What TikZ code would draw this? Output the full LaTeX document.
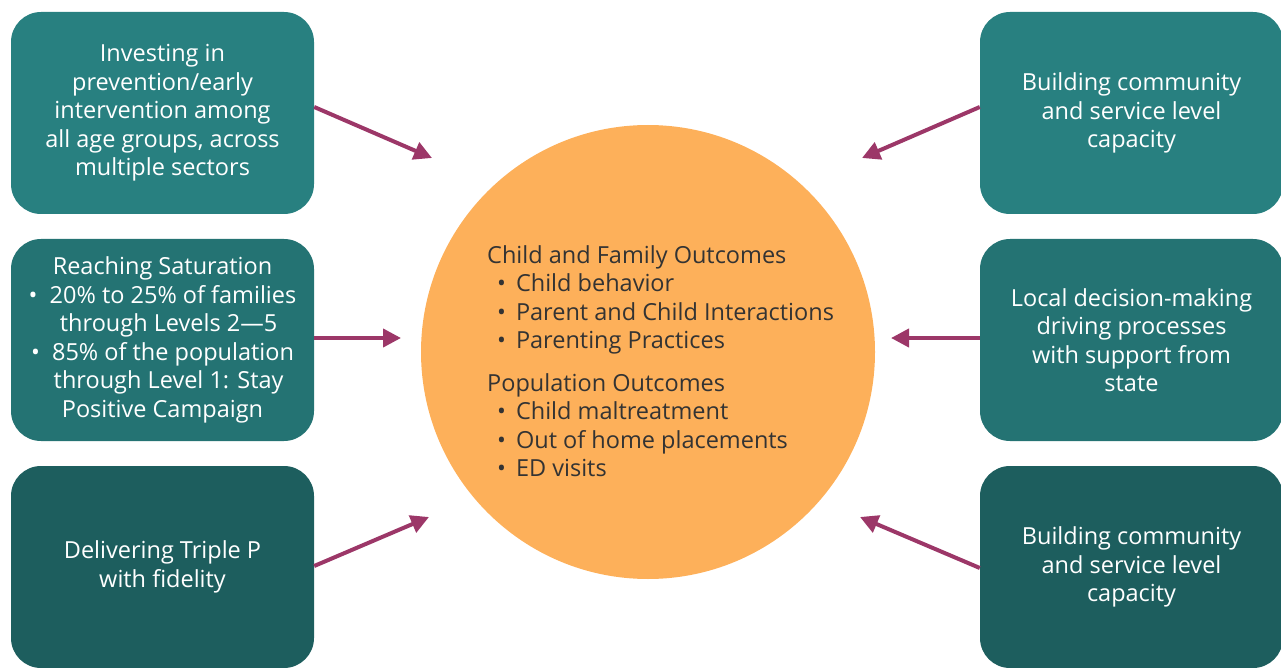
\documentclass[tikz,border=0pt]{standalone}
\usepackage{fontspec}
\setmainfont{Open Sans}
\usetikzlibrary{positioning,arrows.meta}
\definecolor{tltop}{HTML}{288080}
\definecolor{tlmid}{HTML}{247373}
\definecolor{tlbot}{HTML}{1D5E5E}
\definecolor{outorg}{HTML}{FDB05A}
\definecolor{arrplum}{HTML}{9C3768}
\definecolor{txtgrey}{HTML}{333333}
\tikzset{
  drv/.style   ={rectangle, rounded corners=30pt, fill=tltop, text=white,
                 align=center, font=\fontsize{23.5}{28.5}\selectfont,
                 minimum width=303pt, minimum height=202pt, inner sep=0pt},
  drvm/.style  ={drv, fill=tlmid},
  drvb/.style  ={drv, fill=tlbot},
  outc/.style  ={circle, fill=outorg, minimum size=454pt, inner sep=0pt},
  outt/.style  ={align=left, text=txtgrey, font=\fontsize{23.5}{28.5}\selectfont,
                 inner sep=0pt},
  fl/.style    ={-{Triangle[length=18pt,width=18pt]}, line width=4pt, draw=arrplum}
}
\newcommand{\itm}{\hspace*{10pt}•\hspace{10pt}}
\begin{document}
\begin{tikzpicture}[x=1pt,y=-1pt]
  \useasboundingbox (0,0) rectangle (1281,668);

  \node[outc] (out) at (648,352) {};
  \node[outt,anchor=north west] (outtxt) at (487,245)
    {Child and Family Outcomes\\
     \itm Child behavior\\
     \itm Parent and Child Interactions\\
     \itm Parenting Practices\\[14pt]
     Population Outcomes\\
     \itm Child maltreatment\\
     \itm Out of home placements\\
     \itm ED visits};

  \node[drv]  (lt) at (162.5,113) {Investing in\\prevention/early\\intervention among\\all age groups, across\\multiple sectors};
  \node[drvm] (lm) at (162.5,340) {Reaching Saturation\\
     •\ \ 20\% to 25\% of families\\\ \ through Levels 2—5\\
     •\ \ 85\% of the population\\\ \ through Level 1: Stay\\Positive Campaign};
  \node[drvb] (lb) at (162.5,567) {Delivering Triple P\\with fidelity};
  \node[drv]  (rt) at (1131.5,113) {Building community\\and service level\\capacity};
  \node[drvm] (rm) at (1131.5,340) {Local decision-making\\driving processes\\with support from\\state};
  \node[drvb] (rb) at (1131.5,567) {Building community\\and service level\\capacity};

  \coordinate (tlt) at (432,158);
  \coordinate (tlm) at (401,338);
  \coordinate (tlb) at (429,517);
  \coordinate (trt) at (862,158);
  \coordinate (trm) at (891,338);
  \coordinate (trb) at (860,517);

  \draw[fl] ([yshift=6pt]lt.east) -- (tlt);
  \draw[fl] ([yshift=2pt]lm.east) -- (tlm);
  \draw[fl] ([yshift=1pt]lb.east) -- (tlb);
  \draw[fl] ([yshift=6pt]rt.west) -- (trt);
  \draw[fl] ([yshift=2pt]rm.west) -- (trm);
  \draw[fl] ([yshift=-1pt]rb.west) -- (trb);
\end{tikzpicture}
\end{document}
